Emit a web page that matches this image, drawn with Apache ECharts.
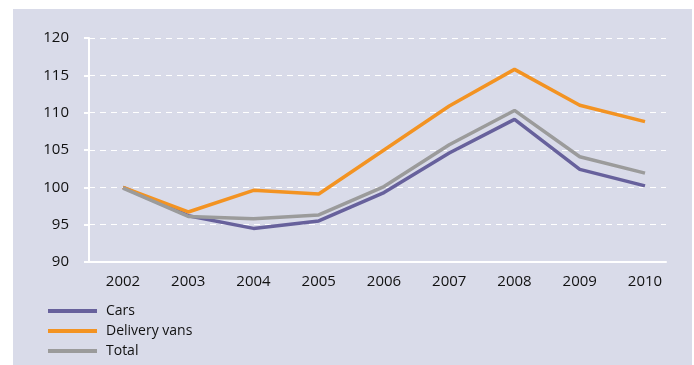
<!DOCTYPE html>
<html>
<head>
<meta charset="utf-8">
<script src="https://cdn.jsdelivr.net/npm/echarts@6/dist/echarts.min.js"></script>
<style>
html,body{margin:0;padding:0;background:#fff;}
#c{width:694px;height:365px;}
</style>
</head>
<body>
<div id="c"></div>
<script>
var years = [2002, 2003, 2004, 2005, 2006, 2007, 2008, 2009, 2010];
var cars = [100.0, 96.2, 94.5, 95.5, 99.3, 104.6, 109.1, 102.4, 100.2];
var deliveryVans = [100.0, 96.7, 99.6, 99.1, 105.0, 110.9, 115.8, 111.0, 108.8];
var total = [99.9, 96.1, 95.8, 96.3, 100.1, 105.7, 110.3, 104.1, 101.9];
var yTicks = [90, 95, 100, 105, 110, 115, 120];

function pairs(vals) {
  return years.map(function (y, i) { return [y, vals[i]]; });
}

var chart = echarts.init(document.getElementById('c'), null, {renderer: 'canvas'});
var font = '"Open Sans", "Noto Sans", sans-serif';
chart.setOption({
  backgroundColor: '#ffffff',
  animation: false,
  graphic: [{
    type: 'rect', z: -10, silent: true,
    shape: {x: 13, y: 9, width: 679, height: 356},
    style: {fill: '#d9dbe9'}
  }],
  grid: {left: 89, right: 28, top: 38, bottom: 103, containLabel: false},
  legend: {
    orient: 'vertical', left: 48, top: 301, itemGap: 0, padding: 0, height: 64,
    itemWidth: 49, itemHeight: 4, icon: 'rect',
    textStyle: {fontFamily: font, fontSize: 14, color: '#111111', lineHeight: 20, padding: [0, 0, 0, 4]},
    data: ['Cars', 'Delivery vans', 'Total']
  },
  xAxis: {
    type: 'value',
    min: 2002 - 34 / 65.25,
    max: 2010 + 21 / 65.25,
    axisLine: {show: true, lineStyle: {color: '#ffffff', width: 2}},
    axisTick: {show: false},
    splitLine: {show: false},
    axisLabel: {
      customValues: years,
      margin: 12,
      fontFamily: font, fontSize: 15, color: '#111111',
      formatter: function (v) { return String(Math.round(v)); }
    }
  },
  yAxis: {
    type: 'value', min: 90, max: 120, interval: 5,
    axisLine: {show: true, lineStyle: {color: '#ffffff', width: 2}},
    axisTick: {show: true, inside: false, length: 5, lineStyle: {color: '#ffffff', width: 2}},
    axisLabel: {margin: 20, fontFamily: font, fontSize: 15, color: '#111111', customValues: yTicks},
    splitLine: {show: true, lineStyle: {color: '#ffffff', type: [6, 5], width: 1}}
  },
  series: [
    {name: 'Cars', type: 'line', data: pairs(cars), showSymbol: false, symbol: 'none',
     itemStyle: {color: '#67619c'}, lineStyle: {color: '#67619c', width: 3.5}},
    {name: 'Delivery vans', type: 'line', data: pairs(deliveryVans), showSymbol: false, symbol: 'none',
     itemStyle: {color: '#f39322'}, lineStyle: {color: '#f39322', width: 3.5}},
    {name: 'Total', type: 'line', data: pairs(total), showSymbol: false, symbol: 'none',
     itemStyle: {color: '#9b9b9b'}, lineStyle: {color: '#9b9b9b', width: 3.5}}
  ]
});
</script>
</body>
</html>
